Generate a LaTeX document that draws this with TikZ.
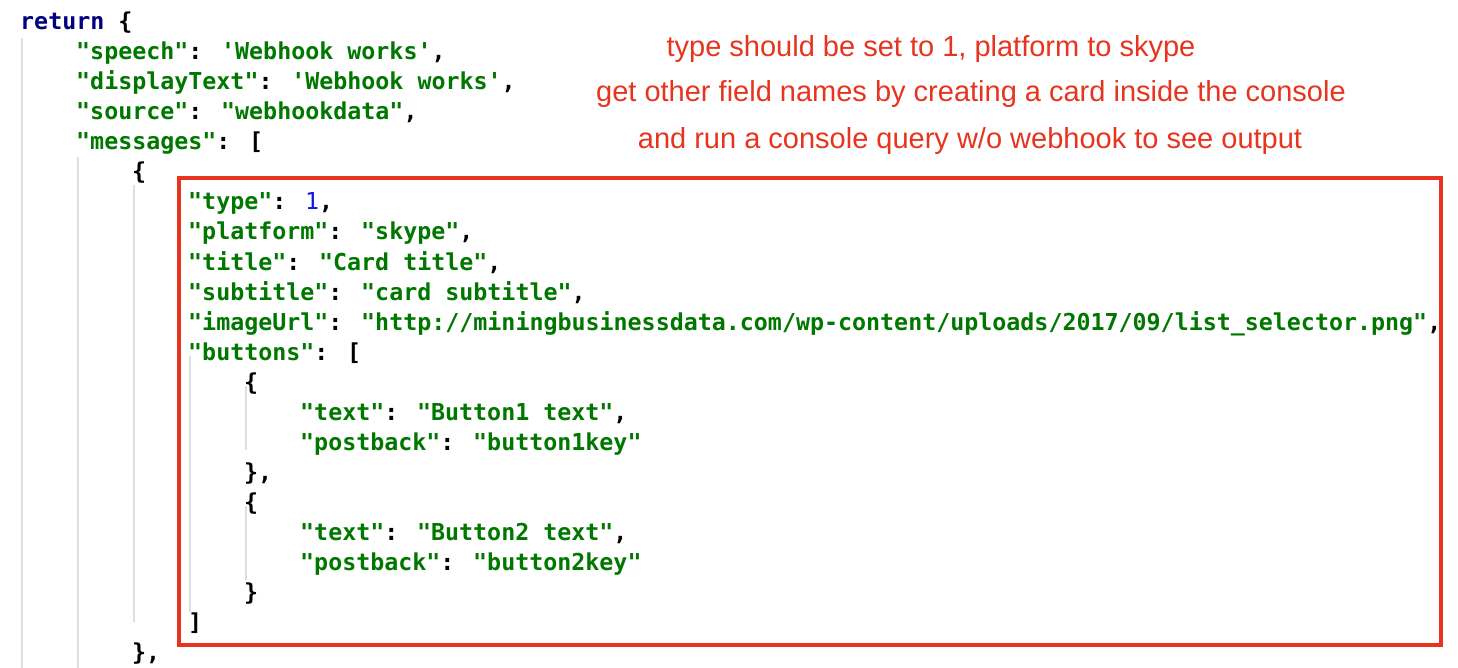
\documentclass[tikz,border=0pt]{standalone}
\usepackage{fontspec}
\setmainfont{Liberation Sans}
\newfontfamily\codefont{DejaVu Sans Mono}
\definecolor{kw}{RGB}{0,0,128}
\definecolor{str}{RGB}{0,120,0}
\definecolor{num}{RGB}{20,20,230}
\definecolor{note}{RGB}{232,52,30}
\definecolor{guide}{RGB}{222,222,222}
\newcommand{\G}[1]{\textcolor{str}{#1}}
\begin{document}
\begin{tikzpicture}[x=1pt,y=-1pt,
  code/.style={anchor=base west,inner sep=0pt,font=\codefont\bfseries\fontsize{23.3}{28}\selectfont},
  notetxt/.style={inner sep=0pt,text=note,font=\fontsize{29}{34}\selectfont},
  guideline/.style={draw=guide,line width=1.5pt}]
\useasboundingbox (0,0) rectangle (1458,668);
\fill[white] (0,0) rectangle (1458,668);
% indent guides
\draw[guideline] (22,38) -- (22,668);
\draw[guideline] (78,157) -- (78,668);
\draw[guideline] (134,185) -- (134,622);
\draw[guideline] (190,356) -- (190,612);
\draw[guideline] (246,386) -- (246,450);
\draw[guideline] (246,506) -- (246,580);
% code
\node[code] (l0) at (20,30) {\textcolor{kw}{return} \{};
\node[code] (l1) at (76,60) {\G{"speech"}: \G{'Webhook works'},};
\node[code] (l2) at (76,90) {\G{"displayText"}: \G{'Webhook works'},};
\node[code] (l3) at (76,120) {\G{"source"}: \G{"webhookdata"},};
\node[code] (l4) at (76,150) {\G{"messages"}: [};
\node[code] (l5) at (132,180) {\{};
\node[code] (l6) at (188,210) {\G{"type"}: \textcolor{num}{\mdseries 1},};
\node[code] (l7) at (188,240) {\G{"platform"}: \G{"skype"},};
\node[code] (l8) at (188,270) {\G{"title"}: \G{"Card title"},};
\node[code] (l9) at (188,300) {\G{"subtitle"}: \G{"card subtitle"},};
\node[code] (l10) at (188,330) {\G{"imageUrl"}: \G{"http://miningbusinessdata.com/wp-content/uploads/2017/09/list\_selector.png"},};
\node[code] (l11) at (188,360) {\G{"buttons"}: [};
\node[code] (l12) at (244,390) {\{};
\node[code] (l13) at (300,420) {\G{"text"}: \G{"Button1 text"},};
\node[code] (l14) at (300,450) {\G{"postback"}: \G{"button1key"}};
\node[code] (l15) at (244,480) {\},};
\node[code] (l16) at (244,510) {\{};
\node[code] (l17) at (300,540) {\G{"text"}: \G{"Button2 text"},};
\node[code] (l18) at (300,570) {\G{"postback"}: \G{"button2key"}};
\node[code] (l19) at (244,600) {\}};
\node[code] (l20) at (188,630) {]};
\node[code] (l21) at (132,660) {\},};
% highlight box
\draw[draw=note,line width=4pt] (179,178) rectangle (1441,645);
% notes
\node[notetxt] (n1) at (931,49) {type should be set to 1, platform to skype};
\node[notetxt] (n2) at (971,94) {get other field names by creating a card inside the console};
\node[notetxt] (n3) at (970,141) {and run a console query w/o webhook to see output};
\end{tikzpicture}
\end{document}
